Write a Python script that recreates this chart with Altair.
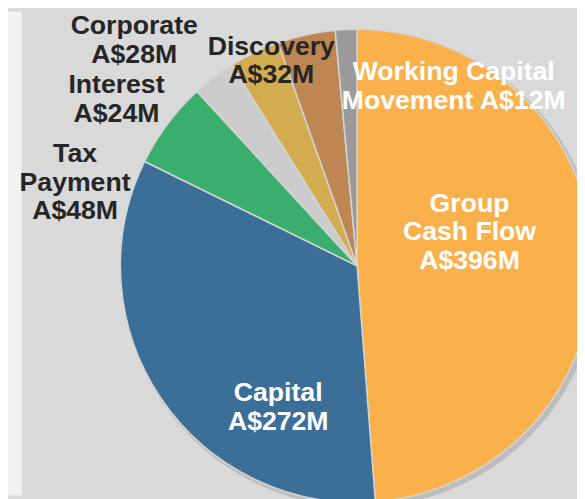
import altair as alt
import pandas as pd

# ---- data ----
categories = ["Group Cash Flow", "Capital", "Tax Payment", "Interest",
              "Corporate", "Discovery", "Working Capital Movement"]
values = [396, 272, 48, 24, 28, 32, 12]
label_texts = ["Group\nCash Flow\nA$396M", "Capital\nA$272M", "Tax\nPayment\nA$48M",
               "Interest\nA$24M", "Corporate\nA$28M", "Discovery\nA$32M",
               "Working Capital\nMovement A$12M"]

# ---- styles / layout ----
colors = ["#fab14b", "#3c6f98", "#3aae6d", "#cccccc", "#d2ac4f", "#bd8652", "#9a9a9a"]
label_colors = ["#ffffff", "#ffffff", "#262626", "#262626", "#262626", "#262626", "#ffffff"]
label_x = [468, 274, 68, 110, 128, 267, 452]
label_y = [195, 387, 145, 75, 15, 36, 62]
CX, CY, R = 354, 258, 240
W, H = 577, 491

df = pd.DataFrame({"category": categories, "value": values,
                   "order": list(range(len(categories)))})
lab = pd.DataFrame({"category": categories, "text": label_texts,
                    "lx": label_x, "ly": label_y, "tc": label_colors})

strip = alt.Chart(pd.DataFrame({"a": [0]})).mark_rect(color="#f2f2f2").encode(
    x=alt.value(0), x2=alt.value(14), y=alt.value(0), y2=alt.value(H))

shadow = alt.Chart(df).mark_arc(outerRadius=R + 2, color="#8a8a8a", opacity=0.35).encode(
    theta=alt.Theta("value:Q", stack=True),
    order=alt.Order("order:Q"),
    x=alt.value(CX + 3), y=alt.value(CY + 3))

pie = alt.Chart(df).mark_arc(outerRadius=R, stroke="#d4d4d4", strokeWidth=1.5).encode(
    theta=alt.Theta("value:Q", stack=True),
    order=alt.Order("order:Q"),
    color=alt.Color("category:N", scale=alt.Scale(domain=categories, range=colors), legend=None),
    x=alt.value(CX), y=alt.value(CY))

labels = alt.Chart(lab).mark_text(
    font="Liberation Sans", fontWeight="bold", fontSize=27, lineHeight=29,
    lineBreak="\n", align="center", baseline="middle").encode(
    x=alt.X("lx:Q", scale=None), y=alt.Y("ly:Q", scale=None),
    text="text:N",
    color=alt.Color("tc:N", scale=None))

chart = alt.layer(strip, shadow, pie, labels).properties(
    width=W, height=H, autosize=alt.AutoSizeParams(type="none"), padding=0,
    background="#d9d9d9"
).configure_view(stroke=None)

chart.save("out.html", embed_options={"renderer": "svg", "actions": False})
